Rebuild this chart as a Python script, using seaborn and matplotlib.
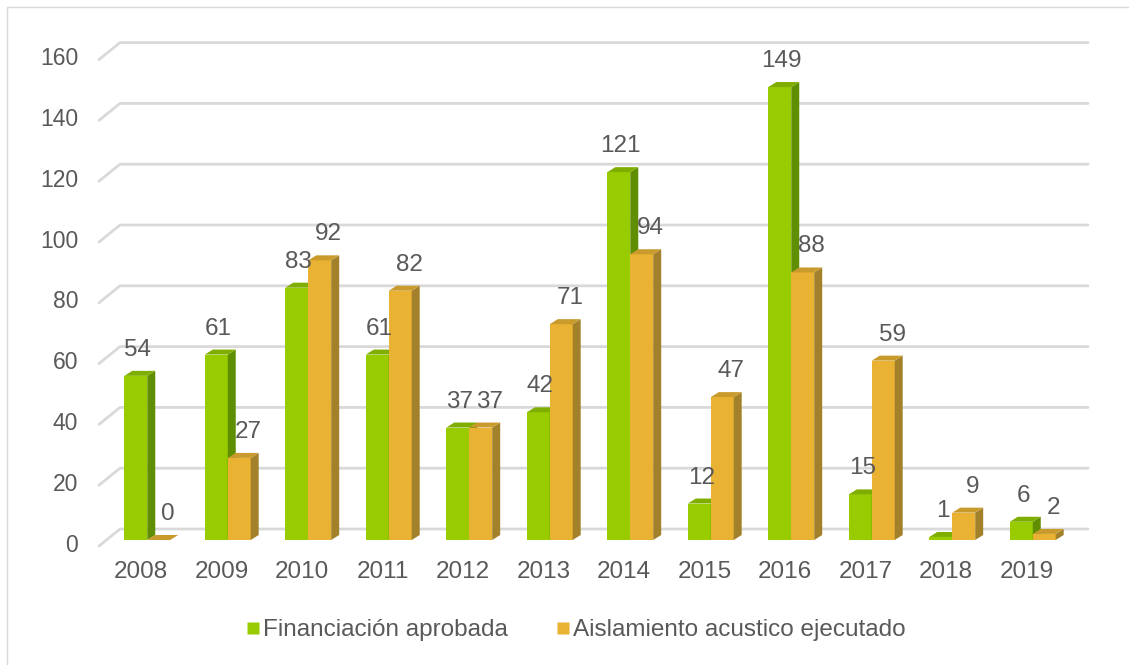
import numpy as np
import pandas as pd
import matplotlib
matplotlib.use("Agg")
import matplotlib.pyplot as plt
import seaborn as sns
from matplotlib.patches import Polygon
from matplotlib.lines import Line2D
from matplotlib.colors import to_rgba

# ---------------- data ----------------
years = ["2008", "2009", "2010", "2011", "2012", "2013",
         "2014", "2015", "2016", "2017", "2018", "2019"]
financiacion = [54, 61, 83, 61, 37, 42, 121, 12, 149, 15, 1, 6]
aislamiento = [0, 27, 92, 82, 37, 71, 94, 47, 88, 59, 9, 2]
series_names = ["Financiación aprobada", "Aislamiento acustico ejecutado"]
y_ticks = [0, 20, 40, 60, 80, 100, 120, 140, 160]

# ---------------- style ----------------
front_colors = {series_names[0]: "#99CC00", series_names[1]: "#E9B232"}
side_colors = {series_names[0]: "#5F8F00", series_names[1]: "#A3812A"}
top_colors = {series_names[0]: "#7FAE00", series_names[1]: "#C99A2C"}
text_color = "#595959"
grid_color = "#D9D9D9"
fs = 17.5
fs_y = 16.5

sns.set_theme(style="white")
plt.rcParams["font.family"] = ["Liberation Sans", "DejaVu Sans"]

W, H = 1129, 665
fig = plt.figure(figsize=(W / 100, H / 100), dpi=100)
fig.patch.set_facecolor("white")
ax = fig.add_axes([107 / W, (H - 540) / H, 966 / W, (540 - 53.6) / H])

df = pd.DataFrame({
    "Año": years * 2,
    "Serie": [series_names[0]] * len(years) + [series_names[1]] * len(years),
    "Valor": financiacion + aislamiento,
})

sns.barplot(data=df, x="Año", y="Valor", hue="Serie", palette=front_colors,
            width=0.57, saturation=1, legend=False, ax=ax,
            linewidth=0, edgecolor="none")
ax.set_xlim(-0.5, len(years) - 0.5)
ax.set_ylim(0, 160)
ax.set_axis_off()

px_x = 966 / len(years)        # pixels per category
px_y = (540 - 53.6) / 160      # pixels per unit
dx = 8 / px_x                  # bar depth (data units)
dy = 5 / px_y

# back-wall gridlines with the left-wall diagonal
x_front = -0.5 + (99 - 107) / px_x
x_back = -0.5 + (120 - 107) / px_x
x_end = -0.5 + (1088 - 107) / px_x
for v in y_ticks:
    ax.plot([x_front, x_back, x_end],
            [v - 6 / px_y, v + 11 / px_y, v + 11 / px_y],
            color=grid_color, lw=2.0, clip_on=False, zorder=0.5,
            solid_capstyle="round", solid_joinstyle="round")
    ax.annotate(str(v), xy=(-0.5, v), xytext=(-29, -5),
                textcoords="offset pixels", ha="right", va="center",
                fontsize=fs_y, color=text_color, annotation_clip=False)

for i, yr in enumerate(years):
    ax.annotate(yr, xy=(i, 0), xytext=(-6, -32), textcoords="offset pixels",
                ha="center", va="center", fontsize=fs, color=text_color,
                annotation_clip=False)

# 3D faces + data labels
label_dx = {series_names[0]: 2, series_names[1]: 9}
for k, patch in enumerate(list(ax.patches)):
    fc = patch.get_facecolor()
    name = None
    for s in series_names:
        if np.allclose(fc, to_rgba(front_colors[s]), atol=0.01):
            name = s
    if name is None:
        continue
    base_z = 2 if name == series_names[0] else 3
    patch.set_zorder(base_z)
    x0 = patch.get_x()
    w = patch.get_width()
    h = patch.get_height()
    x1 = x0 + w
    side = Polygon([(x1, 0), (x1 + dx, dy), (x1 + dx, h + dy), (x1, h)],
                   closed=True, facecolor=side_colors[name], edgecolor="none",
                   zorder=base_z + 0.1)
    top = Polygon([(x0, h), (x1, h), (x1 + dx, h + dy), (x0 + dx, h + dy)],
                  closed=True, facecolor=top_colors[name], edgecolor="none",
                  zorder=base_z + 0.2)
    ax.add_patch(side)
    ax.add_patch(top)
    ax.annotate(f"{h:.0f}", xy=(x0 + w / 2, h), xytext=(label_dx[name], 26),
                textcoords="offset pixels", ha="center", va="center",
                fontsize=fs, color=text_color, annotation_clip=False,
                zorder=5)

# legend
handles = [Line2D([0], [0], marker="s", linestyle="none", markersize=8.5,
                  markerfacecolor=front_colors[s], markeredgecolor="none")
           for s in series_names]
leg = fig.legend(handles, series_names, loc="center",
                 bbox_to_anchor=(576 / W, (H - 630) / H), ncol=2,
                 frameon=False, fontsize=fs, handlelength=0.55,
                 handletextpad=0.15, columnspacing=2.0, labelcolor=text_color)

# chart frame (top/left edges visible)
fig.add_artist(Line2D([7 / W, 1.0], [1 - 7 / H, 1 - 7 / H],
                      transform=fig.transFigure, color="#D9D9D9", lw=1))
fig.add_artist(Line2D([7 / W, 7 / W], [0, 1 - 7 / H],
                      transform=fig.transFigure, color="#D9D9D9", lw=1))

fig.savefig("out.png", dpi=100, facecolor="white")
